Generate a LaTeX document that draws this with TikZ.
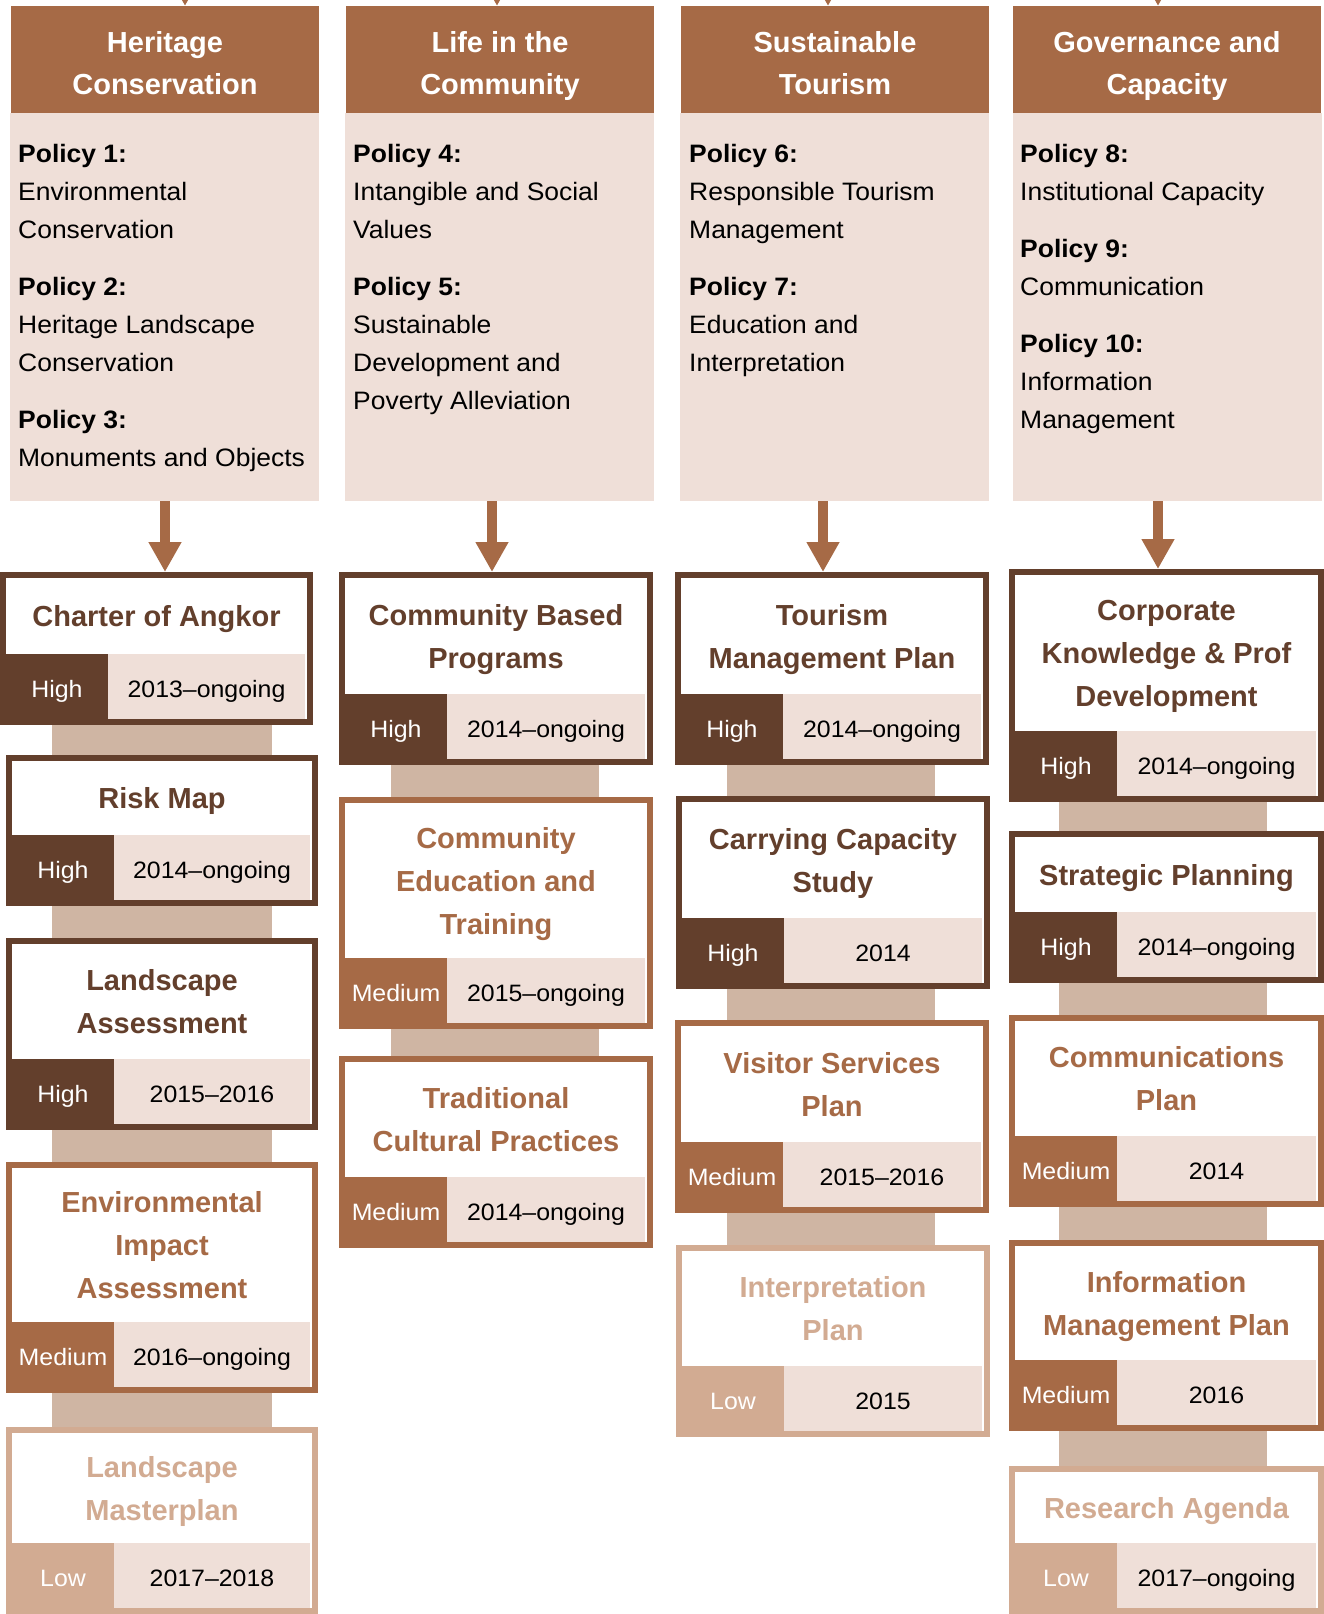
\documentclass[tikz,border=0pt]{standalone}
\usepackage{fontspec}
\setmainfont{Liberation Sans}
\newfontfamily\widefont[FakeStretch=1.05]{Liberation Sans}
\usetikzlibrary{arrows.meta, positioning, calc}
\definecolor{headbrown}{RGB}{166,106,70}
\definecolor{policyfill}{RGB}{239,223,216}
\definecolor{highbrown}{RGB}{99,63,44}
\definecolor{medbrown}{RGB}{166,106,70}
\definecolor{lowtan}{RGB}{210,171,146}
\definecolor{linktan}{RGB}{207,181,163}

\tikzset{
  header/.style={fill=headbrown, minimum width=308, minimum height=107, inner sep=0, outer sep=0},
  headtext/.style={text=white, font=\fontsize{29}{42}\selectfont\bfseries, align=center,
    text depth=0pt, inner sep=0},
  policybox/.style={fill=policyfill, minimum width=309, minimum height=388, inner sep=0, outer sep=0},
  policytext/.style={font=\widefont\fontsize{25.2}{38}\selectfont, align=left, inner sep=0},
  progframe/.style={fill=white, line width=6pt, inner sep=0},
  progtitle/.style={font=\fontsize{29}{43}\selectfont\bfseries, align=center,
    text depth=0pt, inner sep=0},
  prio/.style={text=white, font=\widefont\fontsize{23.7}{28}\selectfont,
    text height=21pt, text depth=0pt,
    minimum width=102, minimum height=65, inner sep=0, outer sep=0},
  datecell/.style={fill=policyfill, font=\widefont\fontsize{23.7}{28}\selectfont,
    text height=21pt, text depth=0pt, minimum height=65, inner sep=0, outer sep=0},
  flow/.style={draw=headbrown, line width=10pt, -{Triangle[length=30pt, width=31pt]}},
  link/.style={draw=linktan, line width=#1},
  link/.default=208pt
}

% name, left, top, right, bottom, colour, title, priority, years
\newcommand{\progbox}[9]{%
  \node[progframe, draw=#6, minimum width={#4-#2-6}, minimum height={#5-#3-6}]
    (#1) at ({(#2+#4)/2},{(#3+#5)/2}) {};
  \node[prio, fill=#6, anchor=south west] (#1p) at ({#2+6},{#5-6}) {#8};
  \node[datecell, minimum width={#4-#2-116}, anchor=south west] (#1d) at (#1p.south east) {#9};
  \node[progtitle, text=#6] (#1t) at ({(#2+#4)/2},{(#3+#5-65)/2}) {#7};
}

\begin{document}
\begin{tikzpicture}[x=1pt, y=-1pt]
  \useasboundingbox (0,0) rectangle (1324,1614);

  % Politikbereiche
  \node[header, anchor=north west] (h1) at (11,6) {};
  \node[header, anchor=north west] (h2) at (346,6) {};
  \node[header, anchor=north west] (h3) at (681,6) {};
  \node[header, anchor=north west] (h4) at (1013,6) {};
  \node[headtext] (h1t) at ([yshift=-3pt]h1.center) {Heritage\\Conservation};
  \node[headtext] (h2t) at ([yshift=-3pt]h2.center) {Life in the\\Community};
  \node[headtext] (h3t) at ([yshift=-3pt]h3.center) {Sustainable\\Tourism};
  \node[headtext] (h4t) at ([yshift=-3pt]h4.center) {Governance and\\Capacity};

  \node[policybox, anchor=north west] (p1) at (10,113) {};
  \node[policybox, anchor=north west] (p2) at (345,113) {};
  \node[policybox, anchor=north west] (p3) at (680,113) {};
  \node[policybox, anchor=north west] (p4) at (1013,113) {};

  \node[policytext, anchor=north west] (t1) at (18,144)
    {\textbf{Policy 1:}\\Environmental\\Conservation\\[19pt]
     \textbf{Policy 2:}\\Heritage Landscape\\Conservation\\[19pt]
     \textbf{Policy 3:}\\Monuments and Objects};
  \node[policytext, anchor=north west] (t2) at (353,144)
    {\textbf{Policy 4:}\\Intangible and Social\\Values\\[19pt]
     \textbf{Policy 5:}\\Sustainable\\Development and\\Poverty Alleviation};
  \node[policytext, anchor=north west] (t3) at (689,144)
    {\textbf{Policy 6:}\\Responsible Tourism\\Management\\[19pt]
     \textbf{Policy 7:}\\Education and\\Interpretation};
  \node[policytext, anchor=north west] (t4) at (1020,144)
    {\textbf{Policy 8:}\\Institutional Capacity\\[19pt]
     \textbf{Policy 9:}\\Communication\\[19pt]
     \textbf{Policy 10:}\\Information\\Management};

  % arrows from above
  \coordinate (u1) at (185,-30);
  \coordinate (u2) at (497,-30);
  \coordinate (u3) at (828,-30);
  \coordinate (u4) at (1158,-30);
  \draw[flow] (u1) -- (h1.north -| u1);
  \draw[flow] (u2) -- (h2.north -| u2);
  \draw[flow] (u3) -- (h3.north -| u3);
  \draw[flow] (u4) -- (h4.north -| u4);

  % Programme
  \progbox{c1a}{0}{572}{313}{725}{highbrown}{Charter of Angkor}{High}{2013–ongoing}
  \progbox{c1b}{6}{755}{318}{906}{highbrown}{Risk Map}{High}{2014–ongoing}
  \progbox{c1c}{6}{938}{318}{1130}{highbrown}{Landscape\\Assessment}{High}{2015–2016}
  \progbox{c1d}{6}{1162}{318}{1393}{medbrown}{Environmental\\Impact\\Assessment}{Medium}{2016–ongoing}
  \progbox{c1e}{6}{1427}{318}{1614}{lowtan}{Landscape\\Masterplan}{Low}{2017–2018}

  \progbox{c2a}{339}{572}{653}{765}{highbrown}{Community Based\\Programs}{High}{2014–ongoing}
  \progbox{c2b}{339}{797}{653}{1029}{medbrown}{Community\\Education and\\Training}{Medium}{2015–ongoing}
  \progbox{c2c}{339}{1056}{653}{1248}{medbrown}{Traditional\\Cultural Practices}{Medium}{2014–ongoing}

  \progbox{c3a}{675}{572}{989}{765}{highbrown}{Tourism\\Management Plan}{High}{2014–ongoing}
  \progbox{c3b}{676}{796}{990}{989}{highbrown}{Carrying Capacity\\Study}{High}{2014}
  \progbox{c3c}{675}{1020}{989}{1213}{medbrown}{Visitor Services\\Plan}{Medium}{2015–2016}
  \progbox{c3d}{676}{1245}{990}{1437}{lowtan}{Interpretation\\Plan}{Low}{2015}

  \progbox{c4a}{1009}{569}{1324}{802}{highbrown}{Corporate\\Knowledge \& Prof\\Development}{High}{2014–ongoing}
  \progbox{c4b}{1009}{831}{1324}{983}{highbrown}{Strategic Planning}{High}{2014–ongoing}
  \progbox{c4c}{1009}{1015}{1324}{1207}{medbrown}{Communications\\Plan}{Medium}{2014}
  \progbox{c4d}{1009}{1240}{1324}{1431}{medbrown}{Information\\Management Plan}{Medium}{2016}
  \progbox{c4e}{1009}{1466}{1324}{1614}{lowtan}{Research Agenda}{Low}{2017–ongoing}

  % policy -> first programme
  \coordinate (a1) at (165,0);
  \coordinate (a2) at (492,0);
  \coordinate (a3) at (823,0);
  \coordinate (a4) at (1158,0);
  \draw[flow] (p1.south -| a1) -- (c1a.north -| a1);
  \draw[flow] (p2.south -| a2) -- (c2a.north -| a2);
  \draw[flow] (p3.south -| a3) -- (c3a.north -| a3);
  \draw[flow] (p4.south -| a4) -- (c4a.north -| a4);

  % links between programmes
  \coordinate (l1) at (162,0);
  \coordinate (l2) at (495,0);
  \coordinate (l3) at (831,0);
  \coordinate (l4) at (1163,0);
  \foreach \a/\b in {a/b, b/c, c/d, d/e}
    \draw[link=220pt] (c1\a.south -| l1) -- (c1\b.north -| l1);
  \foreach \a/\b in {a/b, b/c}
    \draw[link] (c2\a.south -| l2) -- (c2\b.north -| l2);
  \foreach \a/\b in {a/b, b/c, c/d}
    \draw[link] (c3\a.south -| l3) -- (c3\b.north -| l3);
  \foreach \a/\b in {a/b, b/c, c/d, d/e}
    \draw[link] (c4\a.south -| l4) -- (c4\b.north -| l4);
\end{tikzpicture}
\end{document}
